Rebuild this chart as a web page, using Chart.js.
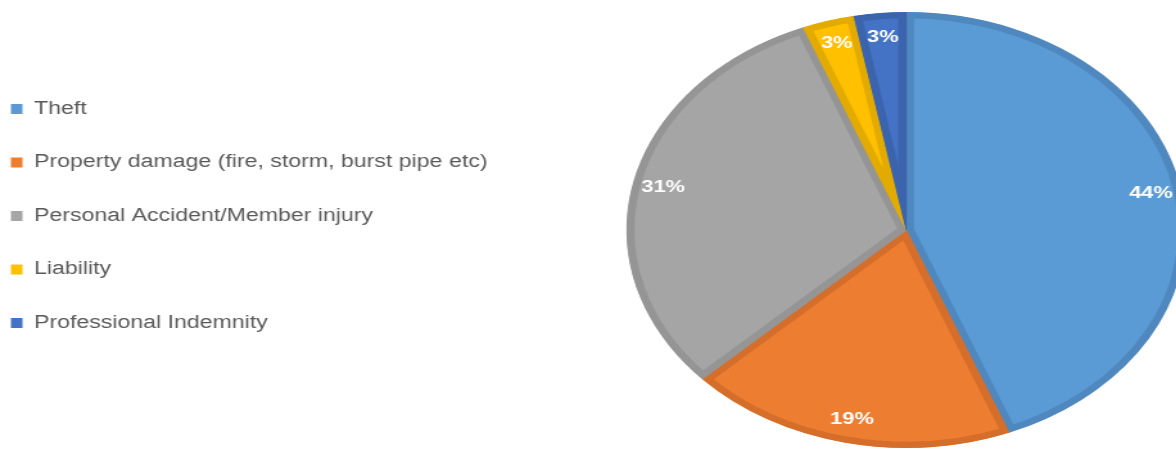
<!DOCTYPE html>
<html>
<head>
<meta charset="utf-8">
<script src="https://cdn.jsdelivr.net/npm/chart.js@4"></script>
<style>
  html, body { margin: 0; padding: 0; background: #fff; overflow: hidden; }
  /* the source picture is stretched sideways, so the whole chart is too */
  #wrap { position: absolute; left: 0; top: 0; width: 1022px; height: 455px;
          transform: scaleX(1.284); transform-origin: 0 0; }
</style>
</head>
<body>
<div id="wrap"><canvas id="claimsChart"></canvas></div>
<script>
const categories = [
  'Theft',
  'Property damage (fire, storm, burst pipe etc)',
  'Personal Accident/Member injury',
  'Liability',
  'Professional Indemnity'
];
const shares = [44, 19, 31, 3, 3];
const fillColors = ['#5B9BD5', '#ED7D31', '#A5A5A5', '#FFC000', '#4472C4'];
const edgeColors = ['#4F88BE', '#D46E2A', '#959595', '#E3AB00', '#3B64AD'];

// Percent labels drawn inside each slice
const pctLabels = {
  id: 'pctLabels',
  afterDatasetsDraw(chart) {
    const ctx = chart.ctx;
    const meta = chart.getDatasetMeta(0);
    ctx.save();
    ctx.font = 'bold 17px "Liberation Sans", Arial, sans-serif';
    ctx.fillStyle = '#ffffff';
    ctx.textAlign = 'center';
    ctx.textBaseline = 'middle';
    meta.data.forEach((arc, i) => {
      const p = arc.getProps(['x', 'y', 'startAngle', 'endAngle', 'outerRadius'], true);
      const mid = (p.startAngle + p.endAngle) / 2;
      const r = p.outerRadius * 0.89;
      ctx.fillText(shares[i] + '%', p.x + Math.cos(mid) * r, p.y + Math.sin(mid) * r);
    });
    ctx.restore();
  }
};

// Legend sits a bit higher than the pie centre in the original
const legendNudge = {
  id: 'legendNudge',
  afterLayout(chart) {
    chart.legend.top -= 14;
    chart.legend.bottom -= 14;
  }
};

const ctx = document.getElementById('claimsChart').getContext('2d');
new Chart(ctx, {
  type: 'pie',
  data: {
    labels: categories,
    datasets: [{
      data: shares,
      backgroundColor: fillColors,
      borderColor: edgeColors,
      borderWidth: 6,
      borderAlign: 'inner',
      hoverOffset: 0
    }]
  },
  options: {
    responsive: true,
    maintainAspectRatio: false,
    animation: false,
    layout: { padding: { left: -27, top: 12, bottom: 7, right: 0 } },
    plugins: {
      tooltip: { enabled: false },
      legend: {
        position: 'left',
        labels: {
          color: '#595959',
          font: { family: '"Liberation Sans", Arial, sans-serif', size: 18 },
          boxWidth: 9,
          boxHeight: 10,
          padding: 35.5,
          generateLabels(chart) {
            const items = Chart.controllers.pie.overrides.plugins.legend.labels.generateLabels(chart);
            return items.map(it => ({ ...it, lineWidth: 0 }));
          }
        }
      }
    }
  },
  plugins: [pctLabels, legendNudge]
});
</script>
</body>
</html>
